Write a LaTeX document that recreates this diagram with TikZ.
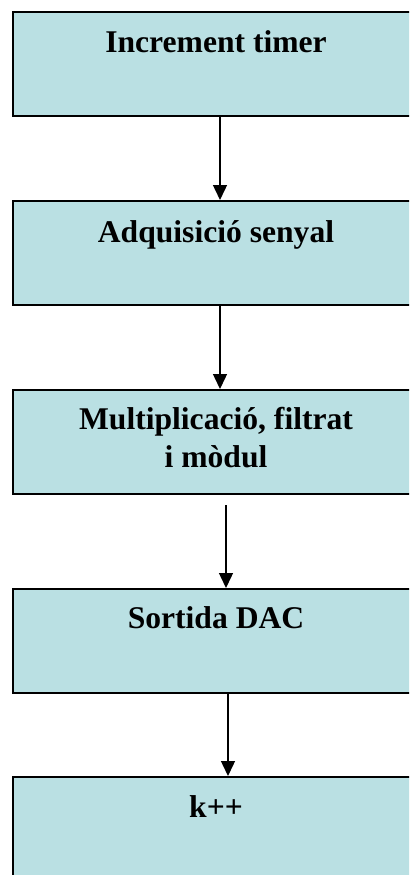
\documentclass[tikz,border=0pt]{standalone}
\usepackage{fontspec}
\setmainfont{Liberation Serif}
\usetikzlibrary{arrows.meta}
\definecolor{boxfill}{RGB}{186,224,227}
\tikzset{
  stepbox/.style={draw=black, line width=2bp, fill=boxfill, rectangle,
    minimum width=406bp, minimum height=104bp, anchor=north west, inner sep=0pt},
  steptext/.style={anchor=base, inner sep=0pt, align=center,
    font=\fontsize{31.6bp}{38bp}\selectfont\bfseries},
  flow/.style={draw=black, line width=1.4bp, -{Triangle[width=14bp,length=15bp]}}
}
\begin{document}
\begin{tikzpicture}[x=1bp,y=-1bp]
  \useasboundingbox (0,0) rectangle (409,875);
  \clip (0,0) rectangle (409,875);
  % process boxes
  \node[stepbox] (b1) at (12,11) {};
  \node[stepbox] (b2) at (12,200) {};
  \node[stepbox] (b3) at (12,389) {};
  \node[stepbox] (b4) at (12,588) {};
  \node[stepbox] (b5) at (12,776) {};
  % box captions
  \node[steptext] (t1) at ([yshift=-41bp]b1.north) {Increment timer};
  \node[steptext] (t2) at ([yshift=-42bp]b2.north) {Adquisició senyal};
  \node[steptext, anchor=north] (t3) at ([yshift=-18bp]b3.north) {Multiplicació, filtrat\\i mòdul};
  \node[steptext] (t4) at ([yshift=-40bp]b4.north) {Sortida DAC};
  \node[steptext] (t5) at ([yshift=-41bp]b5.north) {k++};
  % flow between the steps
  \draw[flow] ([xshift=4bp]b1.south) -- ([xshift=4bp]b2.north);
  \draw[flow] ([xshift=4bp]b2.south) -- ([xshift=4bp]b3.north);
  \draw[flow] ([xshift=10bp,yshift=-10bp]b3.south) -- ([xshift=10bp]b4.north);
  \draw[flow] ([xshift=12bp]b4.south) -- ([xshift=12bp]b5.north);
\end{tikzpicture}
\end{document}
